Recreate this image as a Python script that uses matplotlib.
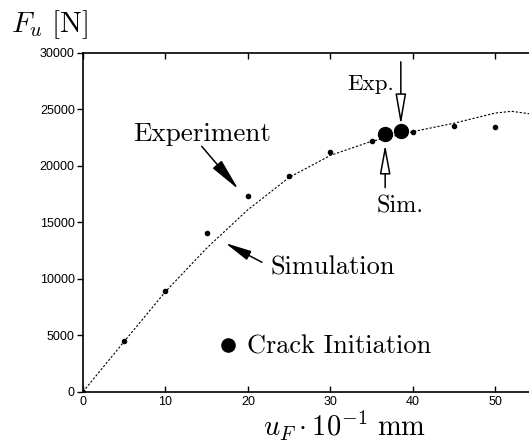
import numpy as np
import matplotlib
matplotlib.use("Agg")
import matplotlib.pyplot as plt

# experiment (measured points)
exp_u = [0, 5, 10, 15, 20, 25, 30, 35, 40, 45, 50]
exp_F = [0, 4500, 8950, 14000, 17300, 19100, 21200, 22200, 23000, 23500, 23450]

# simulation curve
sim_u = [0, 5, 10, 15, 20, 25, 30, 35, 40, 45, 50, 52, 55]
sim_F = [0, 4450, 8850, 12700, 16100, 18950, 20900, 22150, 23000, 23750, 24650, 24800, 24500]

# crack initiation (sim, exp)
crack_u = [36.65, 38.55]
crack_F = [22800, 23040]

plt.rcParams['mathtext.fontset'] = 'cm'
serif = 'cmr10'

fig = plt.figure(figsize=(5.29, 4.48), dpi=100)
ax = fig.add_axes([0.157, 0.1257, 0.843, 0.757])

ax.plot(sim_u, sim_F, color='black', lw=0.8, dashes=(2, 1.6))
ax.plot(exp_u, exp_F, 'o', color='black', ms=3, mfc='black')
ax.plot(crack_u, crack_F, 'o', color='black', ms=10)

ax.set_xlim(0, 54.1)
ax.set_ylim(0, 30000)
ax.set_xticks([0, 10, 20, 30, 40, 50])
ax.set_yticks([0, 5000, 10000, 15000, 20000, 25000, 30000])
ax.spines['right'].set_visible(False)
for s in ['left', 'bottom', 'top']:
    ax.spines[s].set_linewidth(1.2)
ax.tick_params(axis='x', direction='in', top=True, length=4, width=1, pad=3)
ax.tick_params(axis='y', direction='out', length=4, width=1, pad=2)
for lab in ax.get_xticklabels() + ax.get_yticklabels():
    lab.set_fontfamily('Liberation Sans')
    lab.set_fontsize(9)

fig.text(0.497, 0.027, r'$u_F\cdot 10^{-1}\ \mathrm{mm}$', fontsize=20.5,
         va='baseline', ha='left')
fig.text(0.02, 0.9286, r'$F_u\ [\mathrm{N}]$', fontsize=21, va='baseline', ha='left')

# labels
ax.text(6.07, 22150, 'Experiment', fontsize=19.5, family=serif, va='baseline')
ax.text(22.7, 10330, 'Simulation', fontsize=19, family=serif, va='baseline')
ax.text(19.87, 3400, 'Crack Initiation', fontsize=19, family=serif, va='baseline')
ax.plot([17.63], [4160], 'o', color='black', ms=9.5)
ax.text(32.07, 26700, 'Exp.', fontsize=16.5, family=serif, va='baseline')
ax.text(35.64, 15810, 'Sim.', fontsize=17.5, family=serif, va='baseline')

# arrows
ax.annotate('', xy=(18.85, 17900), xytext=(14.4, 21700),
            arrowprops=dict(arrowstyle='-|>,head_length=2.0,head_width=0.36',
                            mutation_scale=10, fc='black', ec='black', lw=1.1,
                            shrinkA=0, shrinkB=0))
ax.annotate('', xy=(17.25, 13150), xytext=(21.7, 11450),
            arrowprops=dict(arrowstyle='-|>,head_length=1.6,head_width=0.3',
                            mutation_scale=10, fc='black', ec='black', lw=1.1,
                            shrinkA=0, shrinkB=0))
ax.annotate('', xy=(38.55, 23600), xytext=(38.55, 29180),
            arrowprops=dict(arrowstyle='-|>,head_length=1.9,head_width=0.33',
                            mutation_scale=10, fc='white', ec='black', lw=1.1,
                            shrinkA=0, shrinkB=0))
ax.annotate('', xy=(36.65, 21860), xytext=(36.65, 18050),
            arrowprops=dict(arrowstyle='-|>,head_length=1.8,head_width=0.33',
                            mutation_scale=10, fc='white', ec='black', lw=1.1,
                            shrinkA=0, shrinkB=0))

fig.savefig('out.png', dpi=100)
